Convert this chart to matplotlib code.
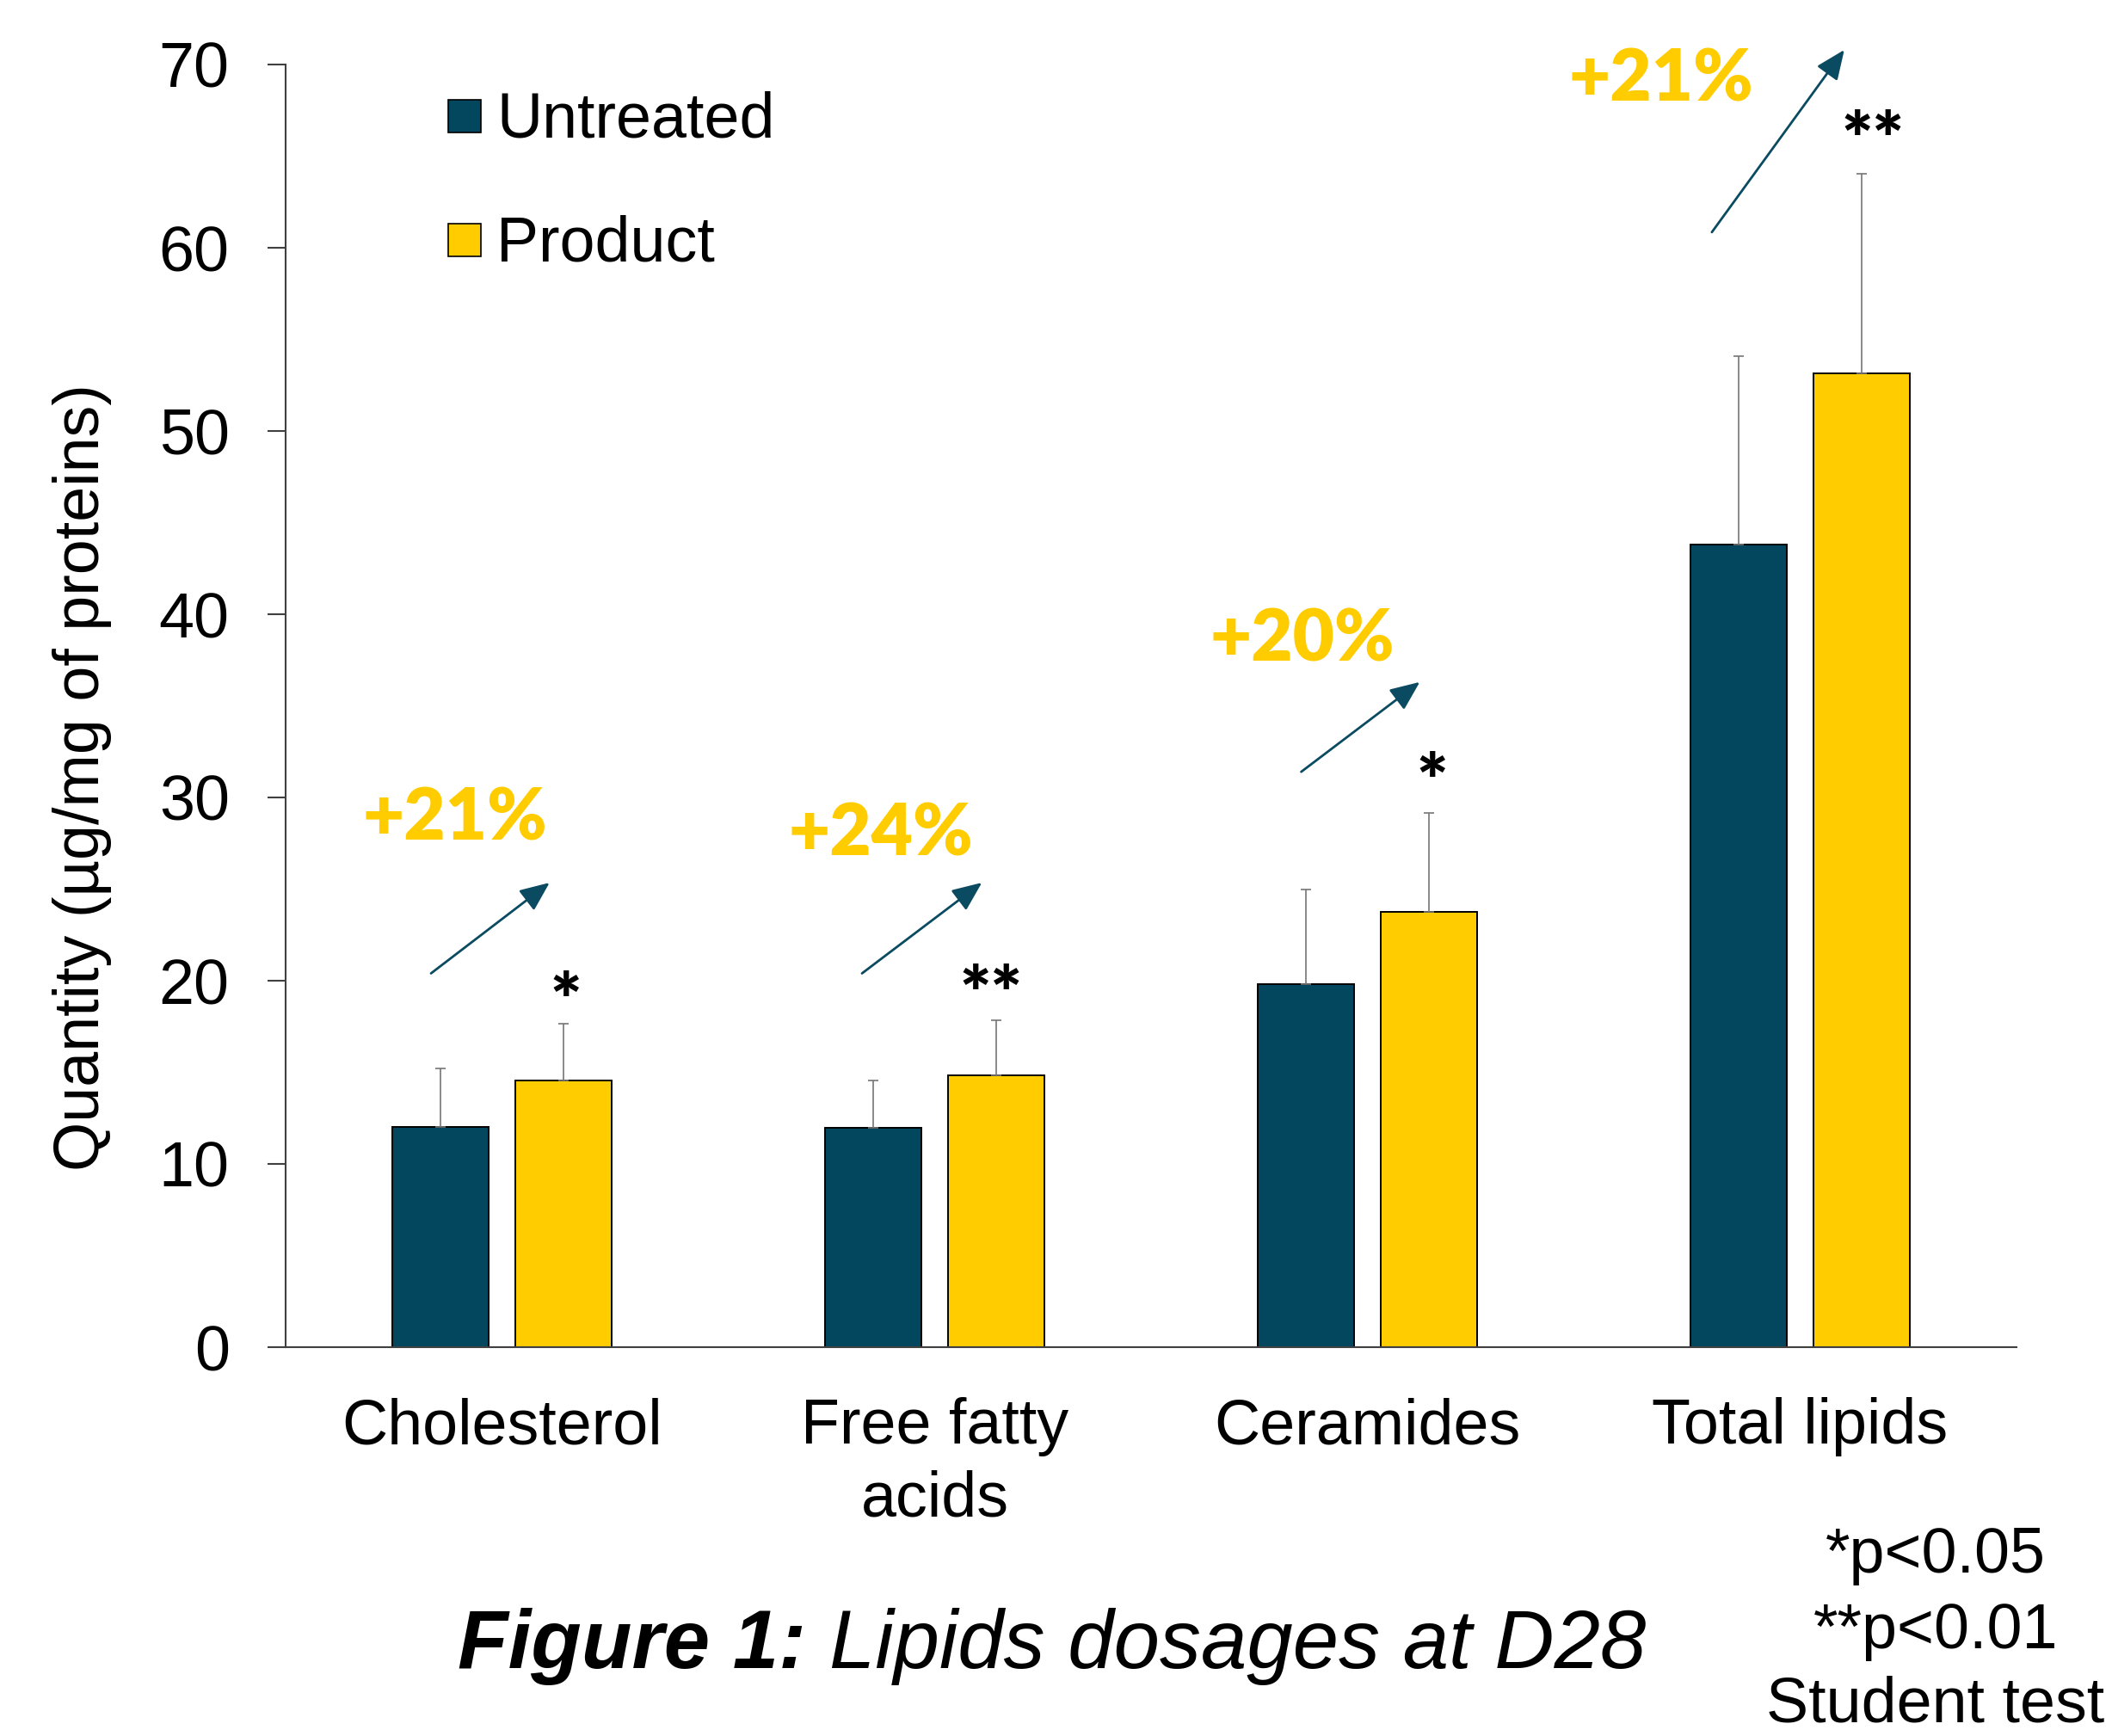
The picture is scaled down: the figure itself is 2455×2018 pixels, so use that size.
import matplotlib
matplotlib.use("Agg")
import matplotlib.pyplot as plt
from matplotlib.patches import Rectangle
import numpy as np

plt.rcParams['font.family'] = ['Liberation Sans', 'DejaVu Sans']

# ---- data ----
categories = ["Cholesterol", "Free fatty\nacids", "Ceramides", "Total lipids"]
series_names = ["Untreated", "Product"]
untreated = [12.0, 11.95, 19.8, 43.8]
product = [14.55, 14.85, 23.75, 53.15]
untreated_err = [3.2, 2.6, 5.2, 10.3]
product_err = [3.1, 3.0, 5.4, 10.9]
pct_labels = ["+21%", "+24%", "+20%", "+21%"]
pct_pos_x = [-0.108, 0.876, 1.850, 2.678]
pct_pos_y = [29.1, 28.25, 38.85, 69.4]
arrow_start = [(-0.164, 20.4), (0.832, 20.4), (1.847, 31.4), (2.796, 60.85)]
arrow_end = [(0.110, 25.35), (1.109, 25.35), (2.121, 36.3), (3.102, 70.8)]
signif = ["*", "**", "*", "**"]
signif_x = [0.1475, 1.131, 2.149, 3.167]
signif_y = [19.6, 20.0, 31.6, 66.6]
yticks = [0, 10, 20, 30, 40, 50, 60, 70]
footnotes = ["*p<0.05", "**p<0.01", "Student test"]

# ---- style ----
W, H = 2455, 2018
c_untreated = "#02475E"
c_product = "#FFCC00"
c_arrow = "#0B4B61"
c_axis = "#404040"
c_err = "#767676"

fig = plt.figure(figsize=(W / 100, H / 100), dpi=100)
ax = fig.add_axes([332 / W, 1 - 1566 / H, (2344 - 332) / W, (1566 - 75) / H])

x = np.arange(len(categories))
bw = 0.224
off = 0.142
ekw = dict(ecolor=c_err, elinewidth=1.2, capsize=4.5, capthick=1.2)
ax.bar(x - off, untreated, bw, color=c_untreated, edgecolor="black", linewidth=1.4,
       yerr=[np.zeros(4), untreated_err], error_kw=ekw, zorder=2)
ax.bar(x + off, product, bw, color=c_product, edgecolor="black", linewidth=1.4,
       yerr=[np.zeros(4), product_err], error_kw=ekw, zorder=2)

ax.set_xlim(-0.5, 3.5)
ax.set_ylim(0, 70)
ax.set_yticks(yticks)
ax.set_xticks(x)
ax.set_xticklabels(categories, fontsize=53, linespacing=1.29)
ax.tick_params(axis='x', length=0, pad=42)
ax.tick_params(axis='y', direction='out', length=15, width=1.5, color=c_axis,
               labelsize=53, pad=32)
for s in ["top", "right"]:
    ax.spines[s].set_visible(False)
for s in ["left", "bottom"]:
    ax.spines[s].set_color(c_axis)
    ax.spines[s].set_linewidth(1.5)

# arrows
for (sx, sy), (ex, ey) in zip(arrow_start, arrow_end):
    ax.annotate("", xy=(ex, ey), xytext=(sx, sy), annotation_clip=False,
                arrowprops=dict(arrowstyle="-|>,head_length=2.1,head_width=0.9",
                                mutation_scale=10, color=c_arrow, lw=2.0,
                                shrinkA=0, shrinkB=0))

# percentage labels
pfs = 60
for t, px, py in zip(pct_labels, pct_pos_x, pct_pos_y):
    ax.annotate(t, xy=(px, py), xytext=(0, -0.36 * pfs), textcoords="offset points",
                ha="center", va="baseline", fontsize=pfs, fontweight="heavy",
                color=c_product, family=["Lato", "DejaVu Sans"], annotation_clip=False)

# significance stars
sfs = 62
for t, sx, sy in zip(signif, signif_x, signif_y):
    ax.annotate(t, xy=(sx, sy), xytext=(0, -0.52 * sfs), textcoords="offset points",
                ha="center", va="baseline", fontsize=sfs, fontweight="heavy",
                color="black", family=["Lato", "DejaVu Sans"], annotation_clip=False)

# y label
fig.text(96 / W, 1 - 904 / H, "Quantity (µg/mg of proteins)", rotation=90,
         ha="center", va="center", fontsize=53)

# legend (manual)
for name, col, top, base in zip(series_names, [c_untreated, c_product], [116, 260], [159, 303]):
    fig.patches.append(Rectangle((521 / W, 1 - (top + 38) / H), 38 / W, 38 / H,
                                 transform=fig.transFigure, facecolor=col,
                                 edgecolor="black", linewidth=1.2))
    fig.text(577 / W, 1 - base / H, name, ha="left", va="baseline", fontsize=53)

# title
fig.text(937 / W, 1 - 1939 / H, "Figure 1:", ha="right", va="baseline", fontsize=69,
         fontweight="bold", fontstyle="italic")
fig.text(964 / W, 1 - 1939 / H, "Lipids dosages at D28", ha="left", va="baseline",
         fontsize=69, fontstyle="italic")

# footnotes
for t, b in zip(footnotes, [1828, 1916, 2002]):
    fig.text(2250 / W, 1 - b / H, t, ha="center", va="baseline", fontsize=53)

fig.savefig("out.png", dpi=100)
